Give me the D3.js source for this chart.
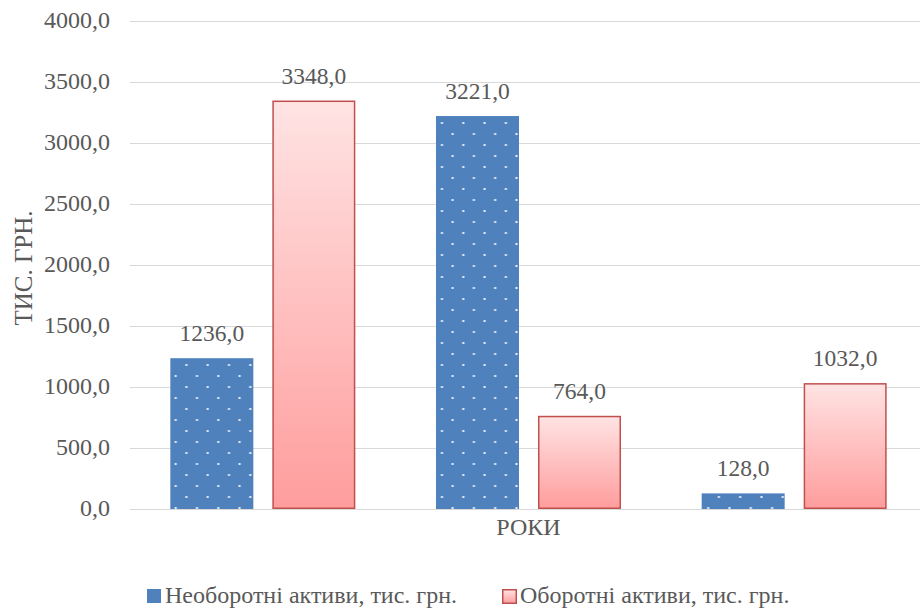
<!DOCTYPE html>
<html>
<head>
<meta charset="utf-8">
<script src="https://cdn.jsdelivr.net/npm/d3@7"></script>
</head>
<body style="margin:0">
<div id="plot" style="position:relative;width:920px;height:608px"></div>
<script>
// дані
const periods = ["Період 1", "Період 2", "Період 3"];
const seriesNames = ["Необоротні активи, тис. грн.", "Оборотні активи, тис. грн."];
const fixedAssets = [1236, 3221, 128];
const currentAssets = [3348, 764, 1032];
const yTicks = [0, 500, 1000, 1500, 2000, 2500, 3000, 3500, 4000];

const width = 920, height = 608;
const margin = { left: 130, right: -7, top: 21, bottom: 99 };
const FONT = '"Times New Roman"';
const TEXT_COLOR = '#595959';

const container = d3.select('#plot');

// шар з графікою
const svg = container.append('svg')
    .attr('width', width)
    .attr('height', height)
    .style('position', 'absolute')
    .style('left', 0)
    .style('top', 0);

// окремий шар для підписів
const labels = container.append('svg')
    .attr('width', width)
    .attr('height', height)
    .style('position', 'absolute')
    .style('left', 0)
    .style('top', 0);

const defs = svg.append('defs');

// точковий візерунок для синіх стовпців
const pat = defs.append('pattern')
    .attr('id', 'dots')
    .attr('patternUnits', 'userSpaceOnUse')
    .attr('width', 21.3)
    .attr('height', 22);
pat.append('rect').attr('width', 21.3).attr('height', 22).attr('fill', '#4f81bd');
pat.append('rect').attr('x', 15).attr('y', 12).attr('width', 2).attr('height', 2).attr('fill', '#e8eff8');
pat.append('rect').attr('x', 4.3).attr('y', 1).attr('width', 2).attr('height', 2).attr('fill', '#e8eff8');

const grad = defs.append('linearGradient')
    .attr('id', 'pinkGrad')
    .attr('x1', 0).attr('y1', 0).attr('x2', 0).attr('y2', 1);
grad.append('stop').attr('offset', '0%').attr('stop-color', '#ffe3e3');
grad.append('stop').attr('offset', '100%').attr('stop-color', '#ff9d9d');

const y = d3.scaleLinear()
    .domain([0, 4000])
    .range([height - margin.bottom, margin.top]);

const x0 = d3.scaleBand()
    .domain(periods)
    .range([margin.left, width - margin.right]);

const x1 = d3.scaleBand()
    .domain([0, 1])
    .range([(x0.bandwidth() - 185) / 2, (x0.bandwidth() + 185) / 2])
    .paddingInner(19 / 102);

const fmt = v => d3.format('.1f')(v).replace('.', ',');

// сітка
svg.append('g')
    .selectAll('line')
    .data(yTicks)
    .join('line')
    .attr('x1', margin.left)
    .attr('x2', width)
    .attr('y1', d => Math.round(y(d)) + 0.5)
    .attr('y2', d => Math.round(y(d)) + 0.5)
    .attr('stroke', '#d9d9d9')
    .attr('stroke-width', 1);

const rows = periods.map((p, i) => ({ period: p, values: [fixedAssets[i], currentAssets[i]] }));
const cells = rows.flatMap(r => r.values.map((v, k) => ({ period: r.period, k, v })));

// стовпці
svg.append('g')
    .selectAll('rect')
    .data(cells)
    .join('rect')
    .attr('x', d => x0(d.period) + x1(d.k) + (d.k === 1 ? 0.75 : 0))
    .attr('y', d => y(d.v) + (d.k === 1 ? 0.75 : 0))
    .attr('width', d => x1.bandwidth() - (d.k === 1 ? 1.5 : 0))
    .attr('height', d => y(0) - y(d.v) - (d.k === 1 ? 1.5 : 0))
    .attr('fill', d => d.k === 0 ? 'url(#dots)' : 'url(#pinkGrad)')
    .attr('stroke', d => d.k === 0 ? 'none' : '#c0504d')
    .attr('stroke-width', 1.5);

// легенда: маркери
const legendX = [147, 502];
svg.append('g')
    .selectAll('rect')
    .data(seriesNames)
    .join('rect')
    .attr('x', (d, i) => legendX[i] + (i === 0 ? 0 : 0.75))
    .attr('y', (d, i) => 589 + (i === 0 ? 0 : 0.75))
    .attr('width', (d, i) => i === 0 ? 14 : 13.5)
    .attr('height', (d, i) => i === 0 ? 14 : 13.5)
    .attr('fill', (d, i) => i === 0 ? '#4f81bd' : 'url(#pinkGrad)')
    .attr('stroke', (d, i) => i === 0 ? 'none' : '#c0504d')
    .attr('stroke-width', 1.5);

// підписи осі Y
labels.selectAll('text.tick')
    .data(yTicks)
    .join('text')
    .attr('class', 'tick')
    .attr('x', margin.left - 20)
    .attr('y', d => y(d) + 7)
    .attr('text-anchor', 'end')
    .attr('font-family', FONT)
    .attr('font-size', 24)
    .attr('fill', TEXT_COLOR)
    .text(d => fmt(d));

// значення над стовпцями
labels.selectAll('text.value')
    .data(cells)
    .join('text')
    .attr('class', 'value')
    .attr('x', d => x0(d.period) + x1(d.k) + x1.bandwidth() / 2)
    .attr('y', d => y(d.v) - 17)
    .attr('text-anchor', 'middle')
    .attr('font-family', FONT)
    .attr('font-size', 23.5)
    .attr('fill', TEXT_COLOR)
    .text(d => fmt(d.v));

// назви осей
labels.append('text')
    .attr('x', (margin.left + width - margin.right) / 2)
    .attr('y', 535)
    .attr('text-anchor', 'middle')
    .attr('font-family', FONT)
    .attr('font-size', 24)
    .attr('fill', TEXT_COLOR)
    .text('РОКИ');

labels.append('text')
    .attr('transform', 'translate(32,268) rotate(-90)')
    .attr('text-anchor', 'middle')
    .attr('font-family', FONT)
    .attr('font-size', 25)
    .attr('fill', TEXT_COLOR)
    .text('ТИС. ГРН.');

// легенда: тексти
labels.selectAll('text.legend')
    .data(seriesNames)
    .join('text')
    .attr('class', 'legend')
    .attr('x', (d, i) => legendX[i] + 18)
    .attr('y', 603)
    .attr('font-family', FONT)
    .attr('font-size', 24)
    .attr('fill', TEXT_COLOR)
    .text(d => d);
</script>
</body>
</html>
